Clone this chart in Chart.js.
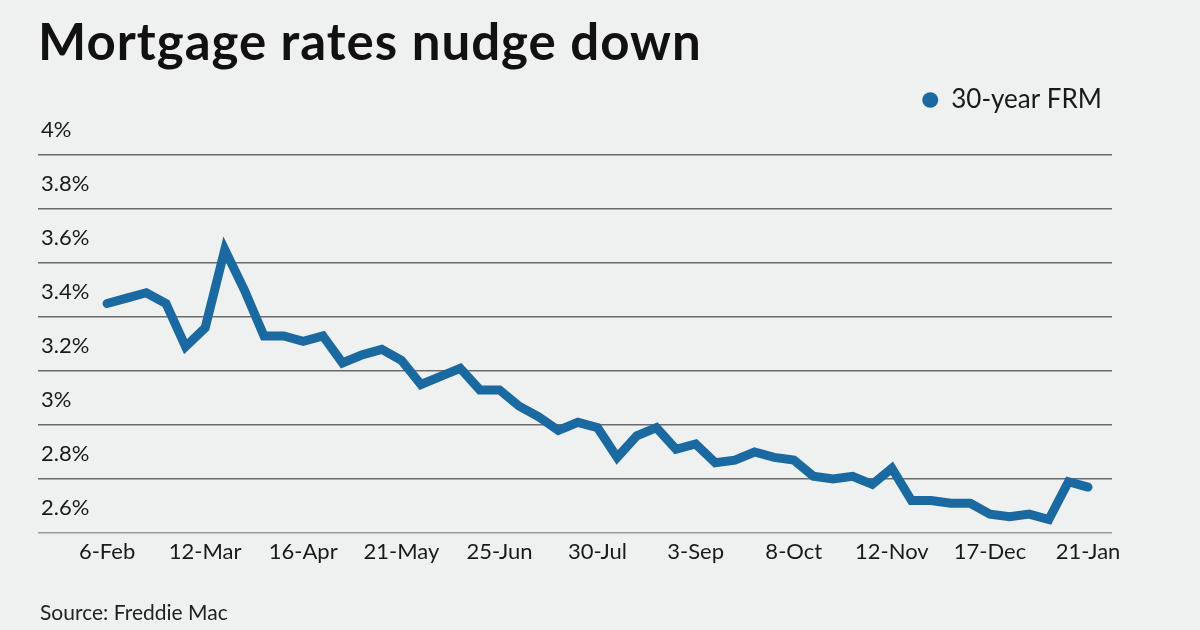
<!DOCTYPE html>
<html>
<head>
<meta charset="utf-8">
<script src="https://cdn.jsdelivr.net/npm/chart.js@4.4.1/dist/chart.umd.min.js"></script>
<style>
    html, body { margin: 0; padding: 0; background: #eff1f0; }
    body { width: 1200px; height: 630px; position: relative; overflow: hidden; font-family: 'Lato', sans-serif; }
    #title { position: absolute; left: 38px; top: 15px; font-size: 51px; font-weight: 700; letter-spacing: 1px; color: #111; line-height: 1; white-space: nowrap; }
    #source { position: absolute; left: 40px; top: 601px; font-size: 21px; color: #222; line-height: 1; }
    #wrap { position: absolute; left: 0; top: 0; width: 1200px; height: 630px; }
</style>
</head>
<body>
<div id="title">Mortgage rates nudge down</div>
<div id="wrap"><canvas id="rateChart"></canvas></div>
<div id="source">Source: Freddie Mac</div>
<script>
// Weekly Freddie Mac survey dates, Feb 2020 - Jan 2021
const weeks = [
    '6-Feb','13-Feb','20-Feb','27-Feb','5-Mar','12-Mar','19-Mar','26-Mar','2-Apr','9-Apr',
    '16-Apr','23-Apr','30-Apr','7-May','14-May','21-May','28-May','4-Jun','11-Jun','18-Jun',
    '25-Jun','2-Jul','9-Jul','16-Jul','23-Jul','30-Jul','6-Aug','13-Aug','20-Aug','27-Aug',
    '3-Sep','10-Sep','17-Sep','24-Sep','1-Oct','8-Oct','15-Oct','22-Oct','29-Oct','5-Nov',
    '12-Nov','19-Nov','25-Nov','3-Dec','10-Dec','17-Dec','23-Dec','30-Dec','7-Jan','14-Jan',
    '21-Jan'
];

// 30-year fixed rate, percent
const rates = [
    3.45, 3.47, 3.49, 3.45, 3.29, 3.36, 3.65, 3.50, 3.33, 3.33,
    3.31, 3.33, 3.23, 3.26, 3.28, 3.24, 3.15, 3.18, 3.21, 3.13,
    3.13, 3.07, 3.03, 2.98, 3.01, 2.99, 2.88, 2.96, 2.99, 2.91,
    2.93, 2.86, 2.87, 2.90, 2.88, 2.87, 2.81, 2.80, 2.81, 2.78,
    2.84, 2.72, 2.72, 2.71, 2.71, 2.67, 2.66, 2.67, 2.65, 2.79,
    2.77
];

// which weeks get an axis label
const labelWeeks = [0, 5, 10, 15, 20, 25, 30, 35, 40, 45, 50];
const yTicks = [2.6, 2.8, 3.0, 3.2, 3.4, 3.6, 3.8, 4.0];

const blue = '#1b69a1';
const fontName = 'Lato';

// push the plot area down below the legend
const legendGap = {
    id: 'legendGap',
    beforeInit(chart) {
        const fit = chart.legend.fit;
        chart.legend.fit = function () {
            fit.bind(chart.legend)();
            this.height += 32;
        };
    }
};

const ctx = document.getElementById('rateChart').getContext('2d');
new Chart(ctx, {
    type: 'line',
    data: {
        datasets: [{
            label: '30-year FRM',
            data: rates.map((v, i) => ({ x: i, y: v })),
            borderColor: blue,
            backgroundColor: blue,
            borderWidth: 9,
            borderCapStyle: 'round',
            borderJoinStyle: 'miter',
            pointRadius: 0,
            pointHoverRadius: 0,
            pointStyle: 'circle',
            tension: 0
        }]
    },
    plugins: [legendGap],
    options: {
        responsive: true,
        maintainAspectRatio: false,
        animation: false,
        layout: { padding: { left: 32, right: 88, top: 77, bottom: 58.6 } },
        plugins: {
            tooltip: { enabled: false },
            legend: {
                position: 'top',
                align: 'end',
                labels: {
                    usePointStyle: true,
                    boxHeight: 11,
                    pointStyleWidth: 16,
                    color: '#1a1a1a',
                    font: { family: fontName, size: 26 },
                    generateLabels(c) {
                        return Chart.defaults.plugins.legend.labels.generateLabels(c)
                            .map(l => Object.assign(l, { lineWidth: 0 }));
                    }
                }
            }
        },
        scales: {
            x: {
                type: 'linear',
                min: -3.52,
                max: 51.22,
                grid: { display: false, drawTicks: false },
                border: { display: false },
                afterBuildTicks: s => { s.ticks = labelWeeks.map(v => ({ value: v })); },
                ticks: {
                    autoSkip: false,
                    maxRotation: 0,
                    padding: 6,
                    color: '#1a1a1a',
                    font: { family: fontName, size: 22 },
                    callback: v => weeks[v]
                }
            },
            y: {
                min: 2.6,
                max: 4,
                border: { display: false },
                grid: {
                    drawTicks: false,
                    color: c => c.tick && Math.abs(c.tick.value - 2.6) < 1e-6 ? '#9a9a9a' : '#6b6b6b',
                    lineWidth: 1.5
                },
                afterBuildTicks: s => { s.ticks = yTicks.map(v => ({ value: v })); },
                ticks: {
                    mirror: true,
                    padding: 3,
                    labelOffset: -25,
                    color: '#1a1a1a',
                    font: { family: fontName, size: 22 },
                    callback: v => (+v.toFixed(1)) + '%'
                }
            }
        }
    }
});
</script>
</body>
</html>
